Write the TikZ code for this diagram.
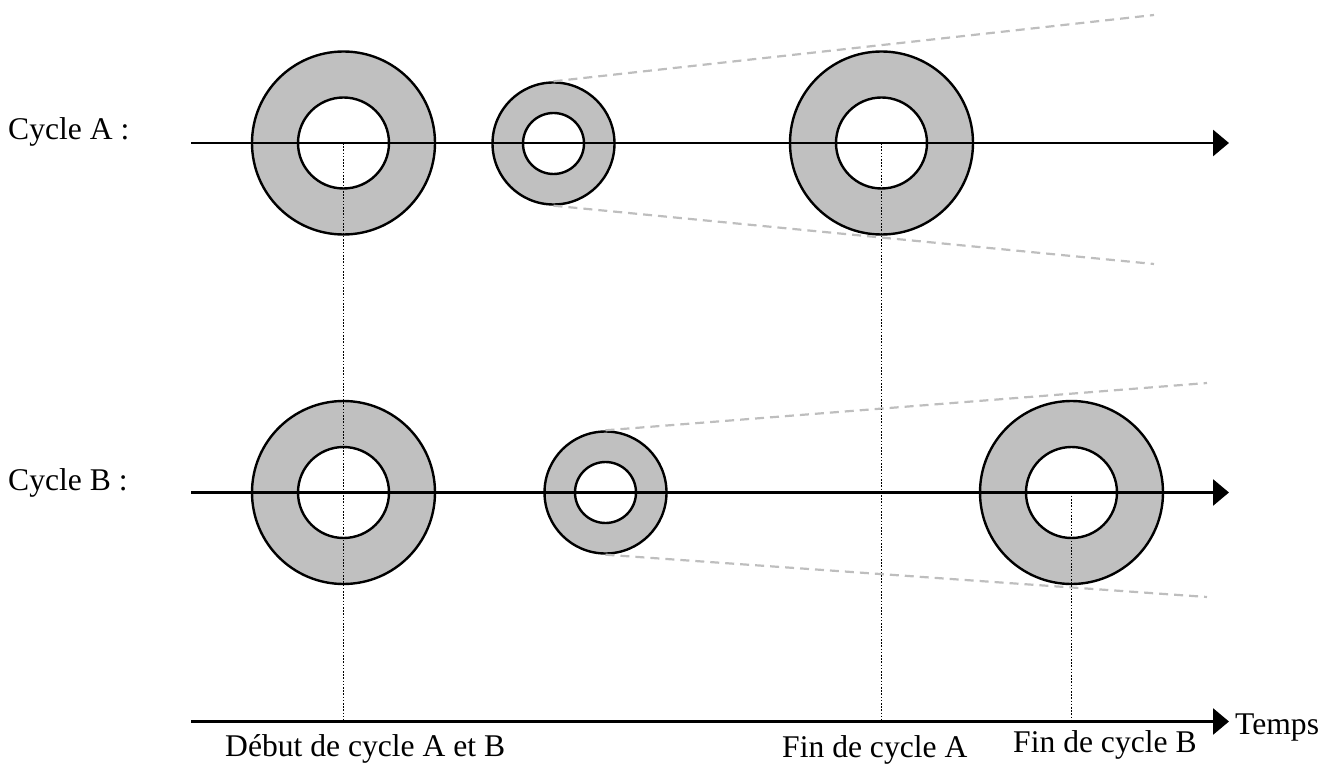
\documentclass[tikz,border=0pt]{standalone}
\usepackage{fontspec}
\setmainfont{Liberation Serif}
\usetikzlibrary{arrows.meta}
\definecolor{ringgray}{RGB}{192,192,192}
\definecolor{dashgray}{RGB}{190,190,190}
\begin{document}
\begin{tikzpicture}[x=1pt,y=-1pt,
  bigring/.style={circle,draw=black,line width=2.4pt,fill=ringgray,inner sep=0pt,minimum size=183pt},
  bighole/.style={circle,draw=black,line width=2.4pt,fill=white,inner sep=0pt,minimum size=91pt},
  smallring/.style={circle,draw=black,line width=2.4pt,fill=ringgray,inner sep=0pt,minimum size=122pt},
  smallhole/.style={circle,draw=black,line width=2.4pt,fill=white,inner sep=0pt,minimum size=61pt},
  axis/.style={line width=2.8pt,-{Triangle[length=16pt,width=26pt]}},
  guide/.style={line width=1.6pt,dash pattern=on 1.6pt off 1.6pt},
  fan/.style={draw=dashgray,line width=2.2pt,dash pattern=on 9pt off 6pt},
  lbl/.style={anchor=base west,inner sep=0pt,font=\fontsize{31.6}{38}\selectfont}
]
\useasboundingbox (0,0) rectangle (1339,767);

% Cycle A rings
\node[bigring] (A1) at (343.5,143) {};
\node[bighole] (A1h) at (343.5,143) {};
\node[smallring] (A2) at (553.5,143.5) {};
\node[smallhole] (A2h) at (553.5,143.5) {};
\node[bigring] (A3) at (881.5,143) {};
\node[bighole] (A3h) at (881.5,143) {};

% Cycle B rings
\node[bigring] (B1) at (343.5,492.5) {};
\node[bighole] (B1h) at (343.5,492.5) {};
\node[smallring] (B2) at (605.5,492.5) {};
\node[smallhole] (B2h) at (605.5,492.5) {};
\node[bigring] (B3) at (1071.5,492.5) {};
\node[bighole] (B3h) at (1071.5,492.5) {};

% fan coordinates
\coordinate (Atop) at (1154,15);
\coordinate (Abot) at (1154,264);
\coordinate (Btop) at (1207,383);
\coordinate (Bbot) at (1207,597);
\draw[fan] (A2.north) -- (Atop);
\draw[fan] (A2.south) -- (Abot);
\draw[fan] (B2.north) -- (Btop);
\draw[fan] (B2.south) -- (Bbot);

% axes
\coordinate (Astart) at (191,143);
\coordinate (Aend) at (1229,143);
\coordinate (Bstart) at (191,492.5);
\coordinate (Bend) at (1229,492.5);
\coordinate (Tstart) at (191,721.5);
\coordinate (Tend) at (1229,721.5);
\draw[axis] (Astart) -- (Aend);
\draw[axis] (Bstart) -- (Bend);
\draw[axis] (Tstart) -- (Tend);

% guides
\coordinate (T1) at (343.5,721.5);
\coordinate (T2) at (881.5,721.5);
\coordinate (T3) at (1071.5,721.5);
\draw[guide] (A1.center) -- (T1);
\draw[guide] (A3.center) -- (T2);
\draw[guide] (B3.center) -- (T3);

% labels
\node[lbl] (la) at (8,140) {Cycle A :};
\node[lbl] (lb) at (8,490.5) {Cycle B :};
\node[lbl] (l1) at (225,756.5) {Début de cycle A et B};
\node[lbl] (l2) at (782,757) {Fin de cycle A};
\node[lbl] (l3) at (1013,752) {Fin de cycle B};
\node[lbl] (l4) at (1235,734) {Temps};
\end{tikzpicture}
\end{document}
